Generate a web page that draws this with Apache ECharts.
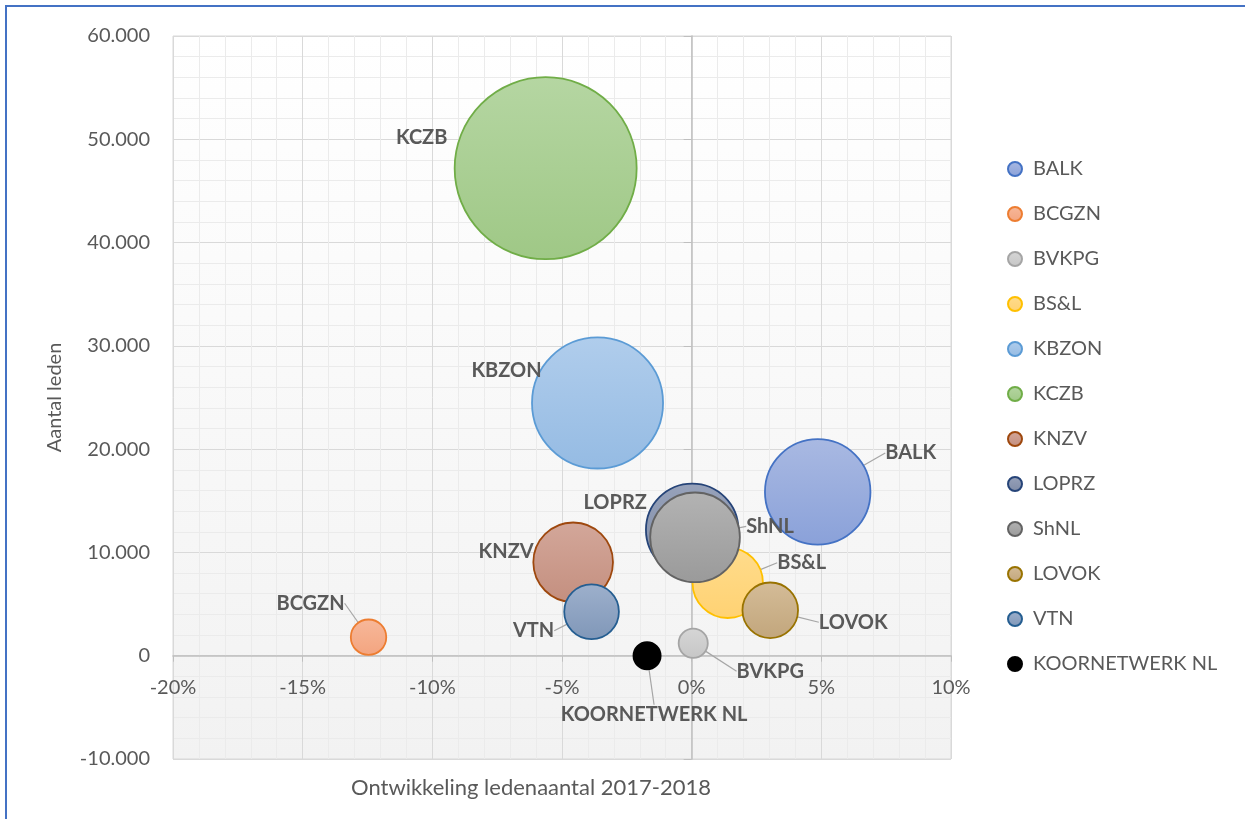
<!DOCTYPE html>
<html>
<head>
<meta charset="utf-8">
<script src="https://cdn.jsdelivr.net/npm/echarts@6/dist/echarts.min.js"></script>
<style>
  html, body { margin: 0; padding: 0; background: #fff; }
  #chart { width: 1245px; height: 819px; }
</style>
</head>
<body>
<div id="chart"></div>
<script>
var names = ["BALK", "BCGZN", "BVKPG", "BS&L", "KBZON", "KCZB", "KNZV", "LOPRZ", "ShNL", "LOVOK", "VTN", "KOORNETWERK NL"];
// ontwikkeling ledenaantal 2017-2018 (%)
var growth = [4.86, -12.46, 0.06, 1.39, -3.63, -5.63, -4.57, 0.02, 0.13, 3.03, -3.86, -1.72];
// aantal leden
var members = [15860, 1790, 1210, 7060, 24470, 47200, 9040, 12190, 11460, 4400, 4260, 0];
// bubbelgrootte
var bubbleSize = [15860, 1790, 1210, 7060, 24470, 47200, 9040, 12190, 11460, 4400, 4260, 1050];
var xTicks = [-20, -15, -10, -5, 0, 5, 10];
var yTicks = [-10000, 0, 10000, 20000, 30000, 40000, 50000, 60000];

// kleuren: rand, licht (boven), donker (onder)
var colors = [
  ["#4472C4", "#a9b9e2", "#8aa1d9"],
  ["#ED7D31", "#f7b89a", "#f3a47f"],
  ["#A5A5A5", "#d6d6d6", "#c6c6c6"],
  ["#FFC000", "#ffdc8c", "#ffd273"],
  ["#5B9BD5", "#b0cdec", "#95bbe3"],
  ["#70AD47", "#b5d6a2", "#9fc886"],
  ["#9E480E", "#d3a79a", "#c48f7f"],
  ["#264478", "#97a2ba", "#7f8ba6"],
  ["#636363", "#b3b3b3", "#9a9a9a"],
  ["#997300", "#d4bc98", "#c2a67c"],
  ["#255E91", "#9db0cc", "#8097b8"],
  ["#000000", "#000000", "#000000"]
];
// label verschuiving t.o.v. middelpunt bubbel
var labelOffset = [
  [93, -39], [-58, -34], [77, 28], [74, -20], [-91, -32], [-124, -31],
  [-67, -11], [-77, -27], [75, -11], [83, 12], [-58, 19], [7, 59]
];
var leader = [true, true, true, true, false, false, false, false, true, true, true, true];

var font = "Lato";
var maxSize = Math.max.apply(null, bubbleSize);
var gridLeft = 173, gridTop = 36, gridRight = 294, gridBottom = 60;

var series = names.map(function(n, i) {
  return {
    name: n,
    type: "scatter",
    symbol: "circle",
    yAxisIndex: 0,
    symbolSize: function(v) {
      return 182 * Math.sqrt(v[2] / maxSize);
    },
    data: [[growth[i], members[i], bubbleSize[i]]],
    itemStyle: {
      color: {
        type: "linear", x: 0, y: 0, x2: 0, y2: 1,
        colorStops: [
          { offset: 0, color: colors[i][1] },
          { offset: 1, color: colors[i][2] }
        ]
      },
      borderColor: colors[i][0],
      borderWidth: 1.8,
      opacity: 1
    },
    label: {
      show: true,
      position: "inside",
      formatter: n,
      fontFamily: font,
      fontWeight: "bold",
      fontSize: 20,
      color: "#595959"
    },
    labelLayout: { dx: labelOffset[i][0], dy: labelOffset[i][1] },
    labelLine: {
      show: leader[i],
      lineStyle: { color: "#a6a6a6", width: 1.2 }
    },
    emphasis: { disabled: true },
    z: 3
  };
});

var myChart = echarts.init(document.getElementById("chart"));
var option = {
  animation: false,
  textStyle: { fontFamily: font },
  graphic: [
    {
      type: "rect",
      shape: { x: 6, y: 6, width: 1300, height: 900 },
      style: { fill: "none", stroke: "#4472C4", lineWidth: 2 },
      silent: true
    },
    {
      type: "text",
      x: 531,
      y: 788,
      style: {
        text: "Ontwikkeling ledenaantal 2017-2018",
        fontFamily: font,
        fontSize: 22,
        fill: "#595959",
        align: "center",
        verticalAlign: "middle"
      }
    }
  ],
  grid: {
    left: gridLeft,
    right: gridRight,
    top: gridTop,
    bottom: gridBottom,
    show: true,
    borderColor: "#d9d9d9",
    borderWidth: 1,
    backgroundColor: {
      type: "linear", x: 0, y: 0, x2: 0, y2: 1,
      colorStops: [
        { offset: 0, color: "#ffffff" },
        { offset: 1, color: "#f2f2f2" }
      ]
    }
  },
  legend: {
    orient: "vertical",
    left: 1002,
    top: 154,
    itemWidth: 26,
    itemHeight: 14,
    itemGap: 25,
    textStyle: {
      fontFamily: font,
      fontSize: 20,
      color: "#595959",
      lineHeight: 20
    },
    data: names
  },
  xAxis: {
    type: "value",
    position: "bottom",
    min: xTicks[0],
    max: xTicks[xTicks.length - 1],
    interval: 5,
    axisLine: { show: true, onZero: false, lineStyle: { color: "#bfbfbf", width: 1.5 } },
    axisTick: { show: true, length: 6, lineStyle: { color: "#bfbfbf" } },
    axisLabel: {
      margin: 22,
      fontFamily: font,
      fontSize: 20,
      color: "#595959",
      formatter: function(v) { return v + "%"; }
    },
    splitLine: { show: true, lineStyle: { color: "#d9d9d9" } },
    minorTick: { show: false, splitNumber: 5 },
    minorSplitLine: { show: true, lineStyle: { color: "#ebebeb" } }
  },
  yAxis: [
    {
      type: "value",
      min: yTicks[0],
      max: yTicks[yTicks.length - 1],
      interval: 10000,
      name: "Aantal leden",
      nameLocation: "middle",
      nameGap: 108,
      nameRotate: 90,
      nameTextStyle: { fontFamily: font, fontSize: 20, color: "#595959" },
      axisLine: { show: false, onZero: false },
      axisTick: { show: false },
      axisLabel: {
        margin: 23,
        fontFamily: font,
        fontSize: 20,
        color: "#595959",
        formatter: function(v) {
          return v.toString().replace(/\B(?=(\d{3})+(?!\d))/g, ".");
        }
      },
      splitLine: { show: true, lineStyle: { color: "#d9d9d9" } },
      minorTick: { show: false, splitNumber: 5 },
      minorSplitLine: { show: true, lineStyle: { color: "#ebebeb" } }
    },
    {
      type: "value",
      position: "left",
      min: yTicks[0],
      max: yTicks[yTicks.length - 1],
      interval: 10000,
      axisLine: { show: true, onZero: false, lineStyle: { color: "#bfbfbf", width: 1.5 } },
      axisTick: { show: true, length: 8, lineStyle: { color: "#bfbfbf" } },
      axisLabel: { show: false },
      splitLine: { show: false }
    }
  ],
  series: series
};
myChart.setOption(option);

// assen door de oorsprong leggen (x-as op 0 leden, y-as op 0%)
var origin = myChart.convertToPixel({ gridIndex: 0 }, [0, 0]);
var plotBottom = 819 - gridBottom;
myChart.setOption({
  xAxis: { offset: origin[1] - plotBottom },
  yAxis: [{}, { offset: gridLeft - origin[0] }]
});
</script>
</body>
</html>
